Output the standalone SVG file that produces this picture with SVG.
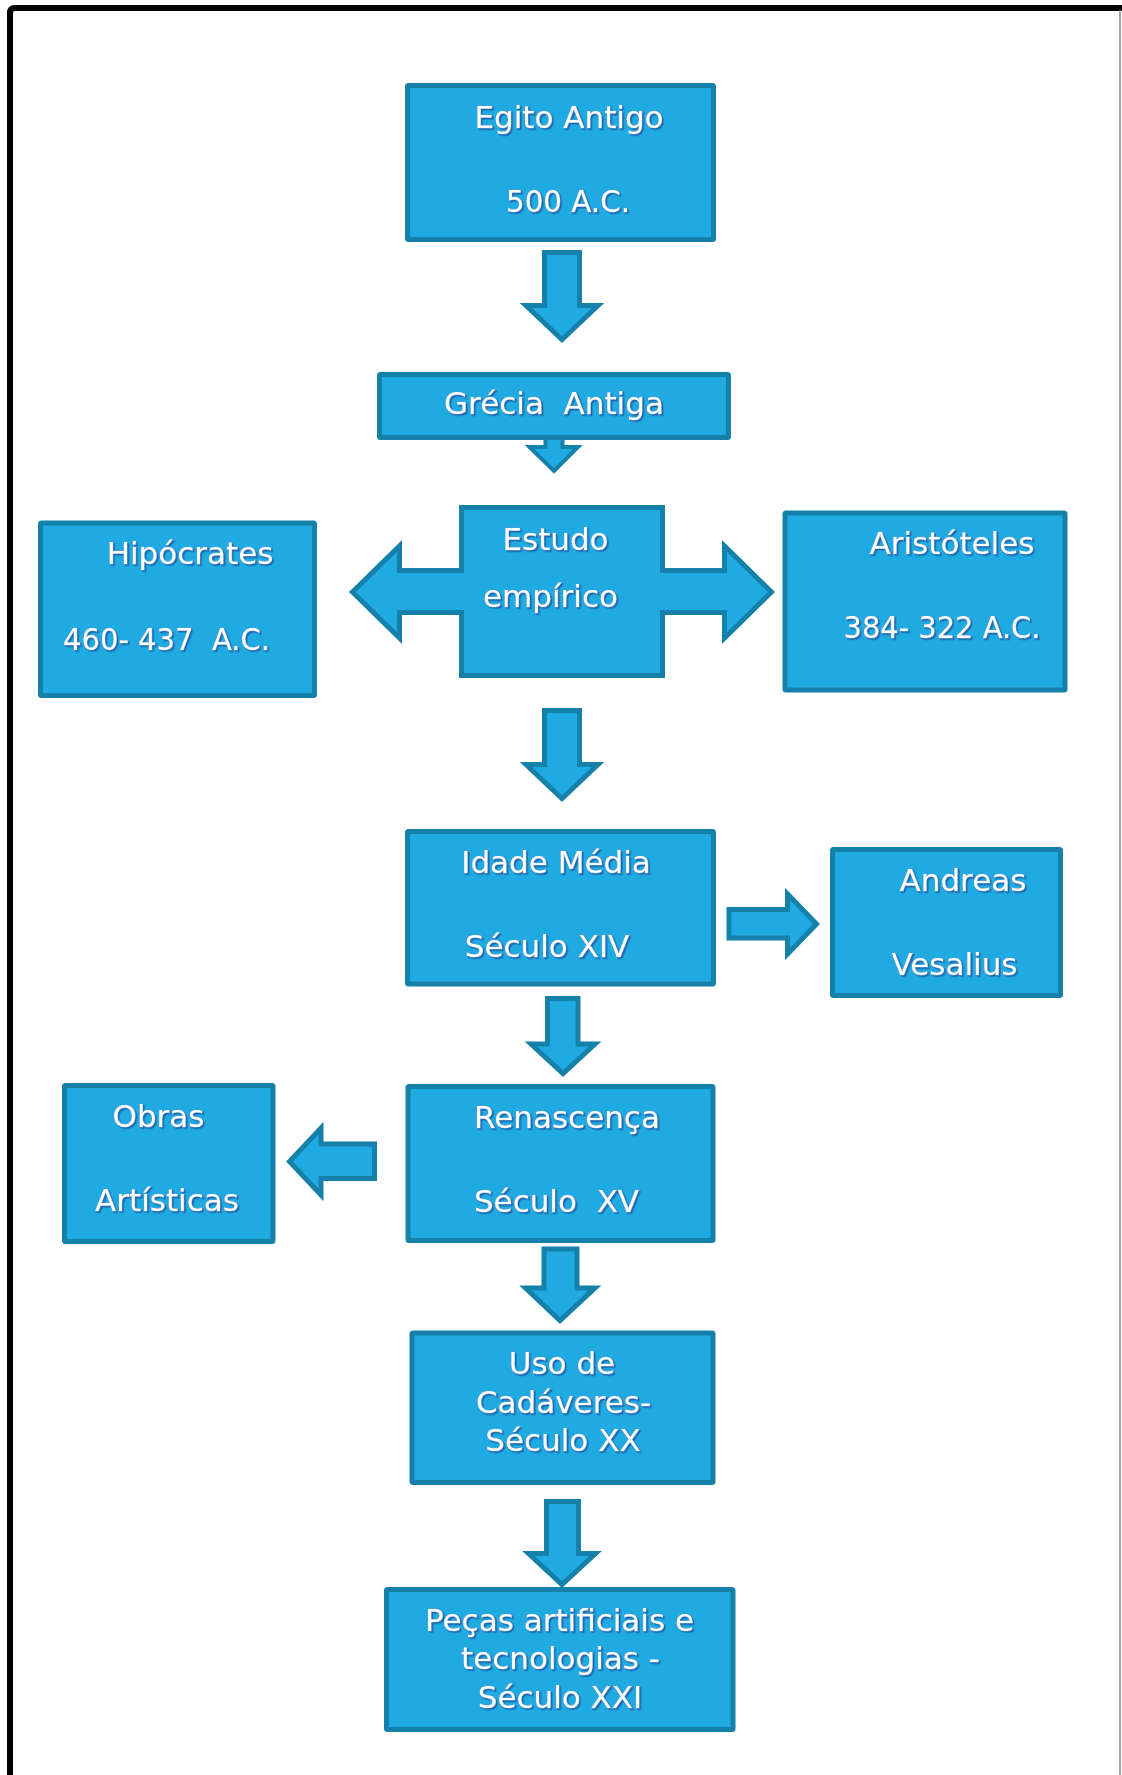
<svg xmlns="http://www.w3.org/2000/svg" width="1122" height="1775" viewBox="0 0 1122 1775">
<defs>
<style>
.box{fill:#1FABE2;stroke:#1581AA;stroke-width:5;stroke-linejoin:miter}
.arr{fill:#1FABE2;stroke:#1581AA;stroke-width:5;stroke-linejoin:miter}
.t{font-family:"DejaVu Sans","Verdana",sans-serif;font-size:31px;fill:#FFFFFF;stroke:#5b9bd5;stroke-width:1;paint-order:stroke;text-anchor:middle;filter:url(#sh)}
</style>
<filter id="sh" x="-10%" y="-30%" width="120%" height="160%">
<feDropShadow dx="1.5" dy="1.5" stdDeviation="0.5" flood-color="#1f5fa8" flood-opacity="0.9"/>
</filter>
</defs>
<rect x="0" y="0" width="1122" height="1775" fill="#FFFFFF"/>
<g id="frame" fill="none">
<path d="M10,1775 V13 Q10,8 15,8 H1122" stroke="#000000" stroke-width="6"/>
<line x1="1120" y1="10" x2="1120" y2="1775" stroke="#8a8a8a" stroke-width="1.5"/>
</g>
<g id="connectors">
<path class="arr" d="M544.5,252.5 H579.5 V305.5 H598 L562,339.5 L526,305.5 H544.5 Z"/>
<path class="arr" d="M545.5,425 V447 H529.5 L554,471 L578,447 H562.5 V425 Z" style="stroke-width:4"/>
<path class="arr" d="M544.5,710.5 H579.5 V764.5 H598 L562,798.5 L526,764.5 H544.5 Z"/>
<path class="arr" d="M729,909.5 H787.5 V894 L816.5,924 L787.5,954 V938 H729 Z"/>
<path class="arr" d="M547.5,998.5 H578 V1044 H595 L563,1073.5 L531,1044 H547.5 Z"/>
<path class="arr" d="M374.5,1144 H321 V1128 L289.5,1161.5 L321,1195 V1178.5 H374.5 Z"/>
<path class="arr" d="M544,1249 H577 V1288 H595 L560,1320.5 L525.5,1288 H544 Z"/>
<path class="arr" d="M546.5,1501.5 H578.5 V1553.5 H595.5 L562,1584.5 L528.5,1553.5 H546.5 Z"/>
</g>
<g id="egito">
<rect class="box" x="407.5" y="85.5" width="306" height="154" rx="1"/>
<text class="t" x="569" y="128">Egito Antigo</text>
<text class="t" x="568" y="212" textLength="124" lengthAdjust="spacingAndGlyphs">500 A.C.</text>
</g>
<g id="grecia">
<rect class="box" x="379.5" y="374.5" width="349" height="63" rx="1"/>
<text class="t" x="554" y="414" xml:space="preserve">Grécia  Antiga</text>
</g>
<g id="estudo">
<path class="box" d="M461.5,507.5 H662.5 V570.5 H724.5 V546 L771.5,592 L724.5,638 V612.5 H662.5 V675.5 H461.5 V612.5 H399.5 V638 L352.5,592 L399.5,546 V570.5 H461.5 Z"/>
<text class="t" x="555.5" y="550">Estudo</text>
<text class="t" x="550.5" y="607">empírico</text>
</g>
<g id="hipocrates">
<rect class="box" x="40.5" y="523" width="274" height="172.5" rx="1"/>
<text class="t" x="190" y="564">Hipócrates</text>
<text class="t" x="166.5" y="650" xml:space="preserve" textLength="207" lengthAdjust="spacingAndGlyphs">460- 437  A.C.</text>
</g>
<g id="aristoteles">
<rect class="box" x="785" y="513" width="280" height="177" rx="1"/>
<text class="t" x="952" y="554">Aristóteles</text>
<text class="t" x="942" y="638" textLength="197" lengthAdjust="spacingAndGlyphs">384- 322 A.C.</text>
</g>
<g id="idade-media">
<rect class="box" x="407.5" y="831.5" width="306" height="152.5" rx="1"/>
<text class="t" x="556" y="873">Idade Média</text>
<text class="t" x="547" y="957">Século XIV</text>
</g>
<g id="vesalius">
<rect class="box" x="832.5" y="849.5" width="228" height="146" rx="1"/>
<text class="t" x="963" y="891">Andreas</text>
<text class="t" x="954.5" y="975">Vesalius</text>
</g>
<g id="renascenca">
<rect class="box" x="408" y="1086.5" width="305" height="154" rx="1"/>
<text class="t" x="567" y="1128">Renascença</text>
<text class="t" x="556.5" y="1212" xml:space="preserve">Século  XV</text>
</g>
<g id="obras">
<rect class="box" x="64.5" y="1085.5" width="208.5" height="156" rx="1"/>
<text class="t" x="158.5" y="1127">Obras</text>
<text class="t" x="167" y="1211">Artísticas</text>
</g>
<g id="cadaveres">
<rect class="box" x="412" y="1333" width="301" height="149.5" rx="1"/>
<text class="t" x="562" y="1374">Uso de</text>
<text class="t" x="563.5" y="1413">Cadáveres-</text>
<text class="t" x="563" y="1451">Século XX</text>
</g>
<g id="pecas">
<rect class="box" x="386.5" y="1589.5" width="346.5" height="140" rx="1"/>
<text class="t" x="559.5" y="1631">Peças artificiais e</text>
<text class="t" x="560.5" y="1669">tecnologias -</text>
<text class="t" x="560" y="1708">Século XXI</text>
</g>
</svg>
